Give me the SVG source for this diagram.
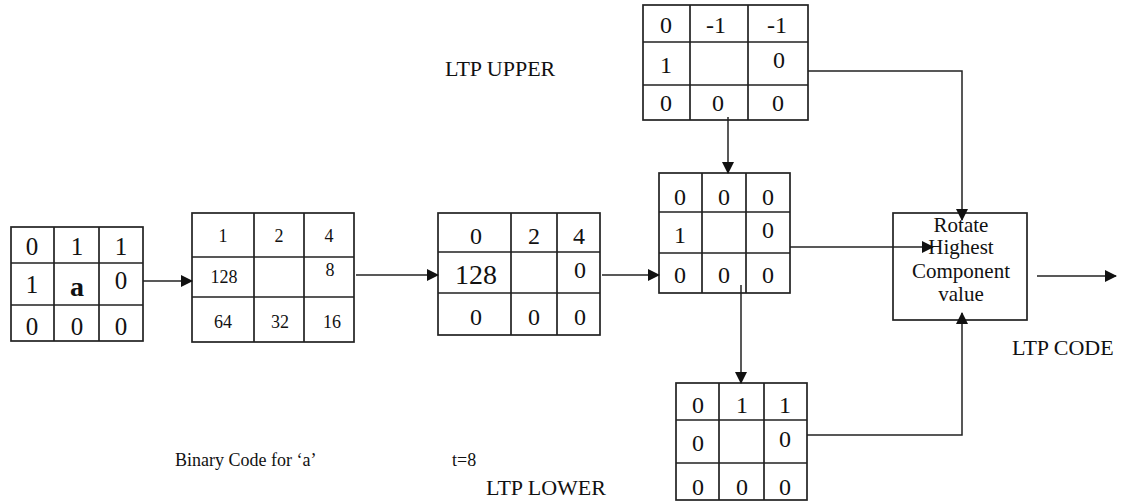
<svg xmlns="http://www.w3.org/2000/svg" width="1127" height="501" viewBox="0 0 1127 501">
  <style>
    .grid { fill: none; stroke: #222; stroke-width: 1.7; }
    .wire { fill: none; stroke: #222; stroke-width: 1.5; }
    text { font-family: "Liberation Serif", "Times New Roman", serif; fill: #111; text-anchor: middle; }
    .big { font-size: 25px; }
    .mid { font-size: 24px; }
    .small { font-size: 18px; }
    .label { font-size: 18px; text-anchor: start; }
    .caps { font-size: 22px; text-anchor: start; }
    .box { font-size: 21px; }
  </style>
  <defs>
    <marker id="arrow" markerWidth="12" markerHeight="12" refX="11" refY="6" orient="auto" markerUnits="userSpaceOnUse">
      <path d="M0,0 L12,6 L0,12 z" fill="#111"/>
    </marker>
  </defs>

  <rect width="1127" height="501" fill="#fff"/>

  <!-- input neighbourhood around 'a' -->
  <g id="input-grid">
    <rect class="grid" x="11" y="227" width="132" height="114"/>
    <path class="grid" d="M54,227 V341 M99,227 V341 M11,263 H143 M11,305 H143"/>
    <text class="big" x="32" y="255">0</text>
    <text class="big" x="77" y="255">1</text>
    <text class="big" x="121" y="255">1</text>
    <text class="big" x="32" y="293">1</text>
    <text x="77" y="296" font-size="28" font-weight="bold">a</text>
    <text class="big" x="121" y="289">0</text>
    <text class="big" x="32" y="335">0</text>
    <text class="big" x="77" y="335">0</text>
    <text class="big" x="121" y="335">0</text>
  </g>

  <!-- binary weights -->
  <g id="weights-grid">
    <rect class="grid" x="192" y="213" width="162" height="129"/>
    <path class="grid" d="M254,213 V342 M304,213 V342 M192,257 H354 M192,297 H354"/>
    <text class="small" x="223" y="242">1</text>
    <text class="small" x="279" y="242">2</text>
    <text class="small" x="329" y="242">4</text>
    <text class="small" x="224" y="283">128</text>
    <text class="small" x="330" y="276">8</text>
    <text class="small" x="223" y="328">64</text>
    <text class="small" x="280" y="328">32</text>
    <text class="small" x="332" y="328">16</text>
  </g>

  <!-- weighted code -->
  <g id="weighted-grid">
    <rect class="grid" x="438" y="213" width="162" height="122"/>
    <path class="grid" d="M511,213 V335 M557,213 V335 M438,252 H600 M438,293 H600"/>
    <text class="mid" x="476" y="244">0</text>
    <text class="mid" x="534" y="244">2</text>
    <text class="mid" x="579" y="244">4</text>
    <text x="476" y="284" font-size="28">128</text>
    <text class="mid" x="580" y="278">0</text>
    <text class="mid" x="476" y="325">0</text>
    <text class="mid" x="534" y="325">0</text>
    <text class="mid" x="580" y="325">0</text>
  </g>

  <!-- ternary pattern -->
  <g id="ltp-grid">
    <rect class="grid" x="659" y="173" width="131" height="120"/>
    <path class="grid" d="M702,173 V293 M746,173 V293 M659,212 H790 M659,253 H790"/>
    <text class="mid" x="680" y="205">0</text>
    <text class="mid" x="724" y="205">0</text>
    <text class="mid" x="768" y="205">0</text>
    <text class="mid" x="680" y="243">1</text>
    <text class="mid" x="768" y="238">0</text>
    <text class="mid" x="680" y="283">0</text>
    <text class="mid" x="724" y="283">0</text>
    <text class="mid" x="768" y="283">0</text>
  </g>

  <!-- upper pattern -->
  <g id="upper-grid">
    <rect class="grid" x="643" y="5" width="165" height="115"/>
    <path class="grid" d="M690,5 V120 M748,5 V120 M643,42 H808 M643,85 H808"/>
    <text class="mid" x="666" y="33">0</text>
    <text class="mid" x="716" y="33">-1</text>
    <text class="mid" x="777" y="33">-1</text>
    <text class="mid" x="666" y="73">1</text>
    <text class="mid" x="779" y="68">0</text>
    <text class="mid" x="666" y="111">0</text>
    <text class="mid" x="718" y="111">0</text>
    <text class="mid" x="778" y="111">0</text>
  </g>

  <!-- lower pattern -->
  <g id="lower-grid">
    <rect class="grid" x="676" y="383" width="131" height="117"/>
    <path class="grid" d="M719,383 V500 M764,383 V500 M676,420 H807 M676,463 H807"/>
    <text class="mid" x="698" y="413">0</text>
    <text class="mid" x="742" y="413">1</text>
    <text class="mid" x="785" y="413">1</text>
    <text class="mid" x="698" y="451">0</text>
    <text class="mid" x="785" y="447">0</text>
    <text class="mid" x="698" y="495">0</text>
    <text class="mid" x="742" y="495">0</text>
    <text class="mid" x="785" y="495">0</text>
  </g>

  <!-- rotation stage -->
  <g id="rotate-box">
    <rect class="grid" x="893" y="213" width="134" height="107"/>
    <text class="box" x="961" y="232">Rotate</text>
    <text class="box" x="961" y="254">Highest</text>
    <text class="box" x="961" y="278">Component</text>
    <text class="box" x="961" y="301">value</text>
  </g>

  <g id="connectors">
    <path class="wire" d="M143,281 H192" marker-end="url(#arrow)"/>
    <path class="wire" d="M356,275 H438" marker-end="url(#arrow)"/>
    <path class="wire" d="M602,275 H659" marker-end="url(#arrow)"/>
    <path class="wire" d="M728,117 V173" marker-end="url(#arrow)"/>
    <path class="wire" d="M741,285 V383" marker-end="url(#arrow)"/>
    <path class="wire" d="M790,247 H933" marker-end="url(#arrow)"/>
    <path class="wire" d="M808,71 H962 V220" marker-end="url(#arrow)"/>
    <path class="wire" d="M807,435 H962 V313" marker-end="url(#arrow)"/>
    <path class="wire" d="M1037,276 H1116" marker-end="url(#arrow)"/>
  </g>

  <g id="labels">
    <text class="caps" x="445" y="76">LTP UPPER</text>
    <text class="label" x="175" y="466">Binary Code for ‘a’</text>
    <text class="label" x="452" y="466">t=8</text>
    <text class="caps" x="486" y="495">LTP LOWER</text>
    <text class="caps" x="1012" y="355">LTP CODE</text>
  </g>
</svg>
